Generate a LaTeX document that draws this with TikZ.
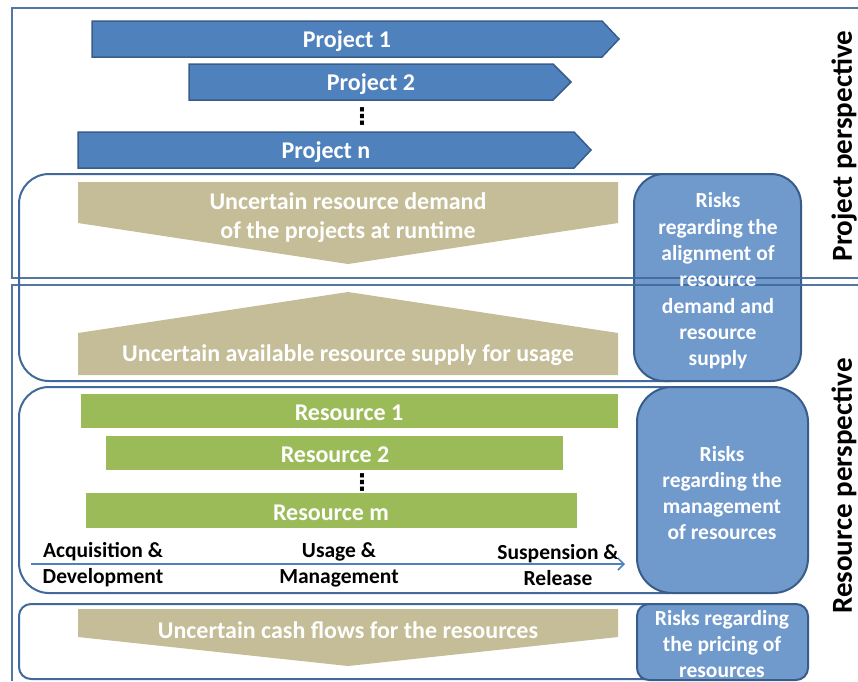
\documentclass[tikz,border=0pt]{standalone}
\usepackage{fontspec}
\setmainfont{Carlito}
\newfontfamily\dejavufont{DejaVu Sans}
\usetikzlibrary{arrows.meta}
\definecolor{projblue}{HTML}{4F81BD}
\definecolor{projedge}{HTML}{385D8A}
\definecolor{riskblue}{HTML}{7099CC}
\definecolor{frameblue}{HTML}{41699B}
\definecolor{tanfill}{HTML}{C4BD97}
\definecolor{resgreen}{HTML}{9BBB59}
\begin{document}
\begin{tikzpicture}[x=1pt,y=-1pt,
  projarrow/.style={fill=projblue, draw=projedge, line width=1.5pt},
  tanshape/.style={fill=tanfill},
  resbar/.style={fill=resgreen},
  roundbox/.style={draw=frameblue, line width=2pt},
  riskbox/.style={fill=riskblue, draw=projedge, line width=2pt},
  frameline/.style={draw=frameblue, line width=2.2pt},
  bigtext/.style={text=white, inner sep=0pt, yshift=-2pt, font=\bfseries\fontsize{24}{29}\selectfont, align=center},
  risktext/.style={text=white, inner sep=0pt, yshift=-2pt, align=center, font=\bfseries\fontsize{21.5}{26.3}\selectfont},
  labeltext/.style={text=black, inner sep=0pt, yshift=-2pt, align=center, font=\bfseries\fontsize{21.5}{26}\selectfont},
  sidelabel/.style={text=black, inner sep=0pt, rotate=90, font=\bfseries\fontsize{29}{34}\selectfont},
  dotsnode/.style={text=black, inner sep=0pt, font=\dejavufont\bfseries\fontsize{23}{26}\selectfont}
]
\useasboundingbox (0,0) rectangle (858,681);
\fill[white] (0,0) rectangle (858,681);

% rounded group boxes
\draw[roundbox, rounded corners=30pt] (19,174) rectangle (700,381);
\draw[roundbox, rounded corners=30pt] (19,387) rectangle (700,593);
\draw[roundbox, rounded corners=12pt] (19,604) rectangle (700,679);

% project arrows
\filldraw[projarrow] (92,21) -- (602,21) -- (619,39) -- (602,57) -- (92,57) -- cycle;
\node[bigtext] (p1) at (347,39) {Project 1};
\filldraw[projarrow] (189,64) -- (553,64) -- (571,82) -- (553,100) -- (189,100) -- cycle;
\node[bigtext] (p2) at (371,82) {Project 2};
\node[dotsnode] (pdots) at (362,117) {⋮};
\filldraw[projarrow] (78,132) -- (574,132) -- (591,150) -- (574,168) -- (78,168) -- cycle;
\node[bigtext] (pn) at (326,150) {Project n};

% demand / supply
\fill[tanshape] (78,182) -- (618,182) -- (618,223) -- (348,264) -- (78,223) -- cycle;
\node[bigtext] (demand) at (348,215.5) {Uncertain resource demand\\of the projects at runtime};
\fill[tanshape] (78,375) -- (618,375) -- (618,333) -- (348,292) -- (78,333) -- cycle;
\node[bigtext] (supply) at (348,353) {Uncertain available resource supply for usage};

% resources
\fill[resbar] (81,394) rectangle (618,428);
\node[bigtext] (r1) at (349,411) {Resource 1};
\fill[resbar] (106,436) rectangle (563,470);
\node[bigtext] (r2) at (335,453) {Resource 2};
\node[dotsnode] (rdots) at (362,482) {⋮};
\fill[resbar] (86,493) rectangle (577,528);
\node[bigtext] (rm) at (331,511) {Resource m};

% lifecycle arrow
\coordinate (lcstart) at (31,564);
\coordinate (lcend) at (625,564);
\draw[projblue, line width=1.6pt, -{Straight Barb[length=6pt, width=12pt, line width=1.6pt]}] (lcstart) -- (lcend);
\node[labeltext] (acq) at (103,563) {Acquisition \&\\Development};
\node[labeltext] (usage) at (339,563) {Usage \&\\Management};
\node[labeltext] (susp) at (558,563) {Suspension \&\\Release};

% cash flows
\fill[tanshape] (78,609) -- (618,609) -- (618,637) -- (348,666) -- (78,637) -- cycle;
\node[bigtext] (cash) at (348,628) {Uncertain cash flows for the resources};

% risk boxes
\filldraw[riskbox, rounded corners=30pt] (634,174) rectangle (801,381);
\filldraw[riskbox, rounded corners=35pt] (637,387) rectangle (808,593);
\filldraw[riskbox, rounded corners=12pt] (637,604) rectangle (808,680);

% perspective frames
\draw[frameline, opacity=0.9] (858,8) -- (12,8) -- (12,278) -- (858,278);
\draw[frameline, opacity=0.9] (858,285) -- (12,285) -- (12,681);

% risk texts
\node[risktext] (riskalign) at (718,279) {Risks\\regarding the\\alignment of\\resource\\demand and\\resource\\supply};
\node[risktext] (riskmgmt) at (722,491) {Risks\\regarding the\\management\\of resources};
\node[risktext] (riskprice) at (722,642) {Risks regarding\\the pricing of\\resources};

% side labels
\node[sidelabel] (projpersp) at (844,146) {Project perspective};
\node[sidelabel] (respersp) at (844,486) {Resource perspective};
\end{tikzpicture}
\end{document}
